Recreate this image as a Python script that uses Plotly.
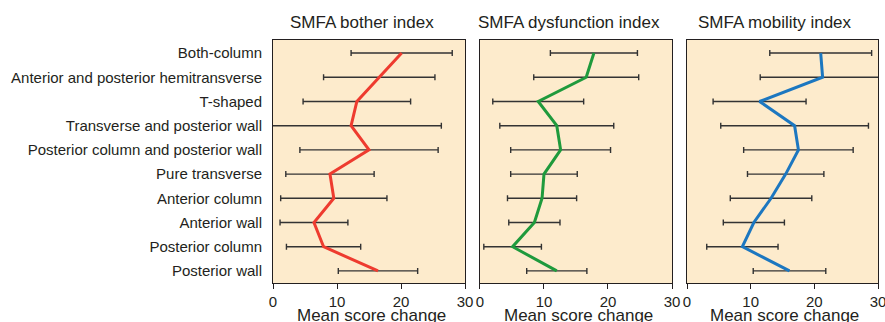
import plotly.graph_objects as go

categories = [
    "Both-column",
    "Anterior and posterior hemitransverse",
    "T-shaped",
    "Transverse and posterior wall",
    "Posterior column and posterior wall",
    "Pure transverse",
    "Anterior column",
    "Anterior wall",
    "Posterior column",
    "Posterior wall",
]

bother_mean = [20.1, 16.6, 13.1, 12.2, 15.0, 8.9, 9.5, 6.4, 7.9, 16.4]
bother_err = [7.9, 8.7, 8.4, 14.1, 10.8, 6.9, 8.3, 5.3, 5.8, 6.2]

dysfunction_mean = [17.8, 16.6, 9.1, 12.0, 12.6, 10.0, 9.7, 8.5, 5.1, 12.0]
dysfunction_err = [6.8, 8.2, 7.1, 8.9, 7.8, 5.2, 5.4, 4.0, 4.5, 4.7]

mobility_mean = [21.0, 21.3, 11.4, 16.9, 17.5, 15.5, 13.2, 10.5, 8.7, 16.1]
mobility_err = [8.0, 9.8, 7.3, 11.6, 8.6, 6.0, 6.4, 4.8, 5.6, 5.7]

panel_titles = ["SMFA bother index", "SMFA dysfunction index", "SMFA mobility index"]
x_title = "Mean score change"
x_ticks = [0, 10, 20, 30]

FONT = "Liberation Sans, Arial, Helvetica, sans-serif"
TXT = "#231f20"
colors = ["#ee3b2f", "#1f9a3c", "#1c77c0"]
means = [bother_mean, dysfunction_mean, mobility_mean]
errs = [bother_err, dysfunction_err, mobility_err]

domains = [[0.0, 0.3174], [0.3421, 0.6595], [0.6843, 1.0]]

fig = go.Figure()
for i in range(3):
    xa = "x" if i == 0 else f"x{i+1}"
    ya = "y" if i == 0 else f"y{i+1}"
    fig.add_trace(go.Scatter(
        x=means[i], y=categories, xaxis=xa, yaxis=ya, mode="markers",
        marker=dict(size=1, color="rgba(0,0,0,0)"),
        error_x=dict(type="data", array=errs[i], visible=True, color="#333333",
                     thickness=1.4, width=3),
        showlegend=False, hoverinfo="skip", cliponaxis=True,
    ))
    fig.add_trace(go.Scatter(
        x=means[i], y=categories, xaxis=xa, yaxis=ya, mode="lines",
        line=dict(color=colors[i], width=3), showlegend=False,
    ))

layout = dict(
    width=885, height=322,
    margin=dict(l=273, r=7, t=40, b=39, autoexpand=False),
    paper_bgcolor="white",
    plot_bgcolor="#fdebcc",
    font=dict(family=FONT, color=TXT, size=15),
    annotations=[],
)

for i in range(3):
    xk = "xaxis" if i == 0 else f"xaxis{i+1}"
    yk = "yaxis" if i == 0 else f"yaxis{i+1}"
    ya = "y" if i == 0 else f"y{i+1}"
    layout[xk] = dict(
        domain=domains[i], anchor=ya, range=[0, 30], tickvals=x_ticks,
        ticks="outside", ticklen=5, tickwidth=1, tickcolor="#231f20",
        showgrid=False, zeroline=False, showline=True, mirror=True,
        linecolor="#231f20", linewidth=1, automargin=False,
        ticklabeloverflow="allow",
        tickfont=dict(size=15, color=TXT),
    )
    layout[yk] = dict(
        domain=[0, 1], anchor="x" if i == 0 else f"x{i+1}",
        type="category", categoryorder="array", categoryarray=categories,
        range=[9.5, -0.54], showgrid=False, zeroline=False,
        showline=True, mirror=True, linecolor="#231f20", linewidth=1,
        ticks="", showticklabels=(i == 0), automargin=False,
        tickfont=dict(size=15, color=TXT), ticklabelstandoff=7,
    )
    center = (domains[i][0] + domains[i][1]) / 2
    layout["annotations"].append(dict(
        text=panel_titles[i], xref="paper", yref="paper",
        x=center - 0.012, y=1.0,
        yshift=6, xanchor="center", yanchor="bottom", showarrow=False,
        font=dict(size=17, color=TXT),
    ))
    layout["annotations"].append(dict(
        text=x_title, xref="paper", yref="paper",
        x=center + 0.004, y=0.0,
        yshift=-21, xanchor="center", yanchor="top", showarrow=False,
        font=dict(size=17, color=TXT),
    ))
    if i > 0:
        layout[yk]["matches"] = "y"

fig.update_layout(**layout)
fig.write_html(
    "out.html",
    config={"displayModeBar": False},
    post_script="document.body.style.margin='0';document.body.style.overflow='hidden';",
)
